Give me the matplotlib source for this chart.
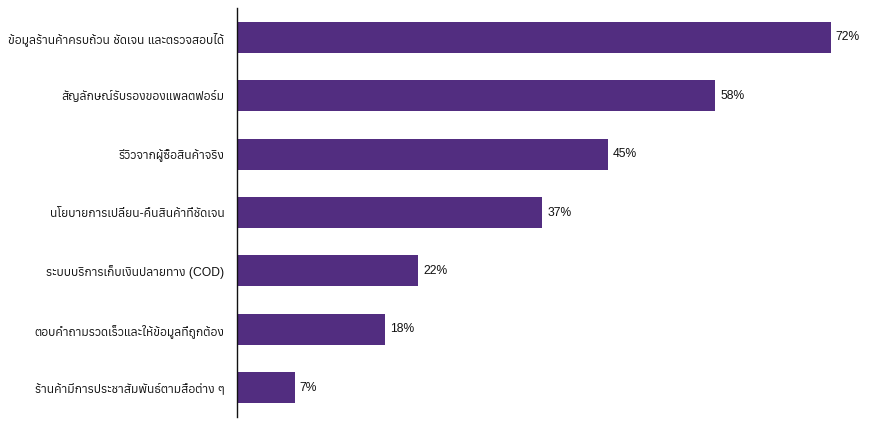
import matplotlib
matplotlib.use('Agg')
import matplotlib.pyplot as plt
from matplotlib import font_manager
from matplotlib.ft2font import FT2Font

categories = [
    "ข้อมูลร้านค้าครบถ้วน ชัดเจน และตรวจสอบได้",
    "สัญลักษณ์รับรองของแพลตฟอร์ม",
    "รีวิวจากผู้ซื้อสินค้าจริง",
    "นโยบายการเปลี่ยน-คืนสินค้าที่ชัดเจน",
    "ระบบบริการเก็บเงินปลายทาง (COD)",
    "ตอบคำถามรวดเร็วและให้ข้อมูลที่ถูกต้อง",
    "ร้านค้ามีการประชาสัมพันธ์ตามสื่อต่าง ๆ",
]
values = [72, 58, 45, 37, 22, 18, 7]

# look for any installed font that carries Thai glyphs
thai_fonts = []
for f in font_manager.fontManager.ttflist:
    try:
        if 0x0E01 in FT2Font(f.fname).get_charmap():
            thai_fonts.append(f.name)
    except Exception:
        pass
families = ['Liberation Sans'] + sorted(set(thai_fonts)) + ['DejaVu Sans']
plt.rcParams['font.family'] = families

fig = plt.figure(figsize=(8.73, 4.26), dpi=100)
ax = fig.add_axes([237 / 873, 9 / 426, 635 / 873, 409 / 426])

positions = range(len(values))
bars = ax.barh(positions, values, height=0.53, color='#522d80')
ax.set_ylim(len(values) - 0.5, -0.5)
ax.set_xlim(0, 77)

ax.set_yticks(list(positions))
ax.set_yticklabels(categories, fontsize=8.7, color='#111111')
ax.tick_params(axis='y', length=0, pad=9)
ax.set_xticks([])

for spine in ['top', 'right', 'bottom']:
    ax.spines[spine].set_visible(False)
ax.spines['left'].set_color('#111111')
ax.spines['left'].set_linewidth(1.0)

for bar, val in zip(bars, values):
    ax.text(bar.get_width() + 0.6, bar.get_y() + bar.get_height() / 2, f"{val}%",
            va='center', ha='left', fontsize=8.7, color='#111111')

fig.savefig('out.png', dpi=100)
